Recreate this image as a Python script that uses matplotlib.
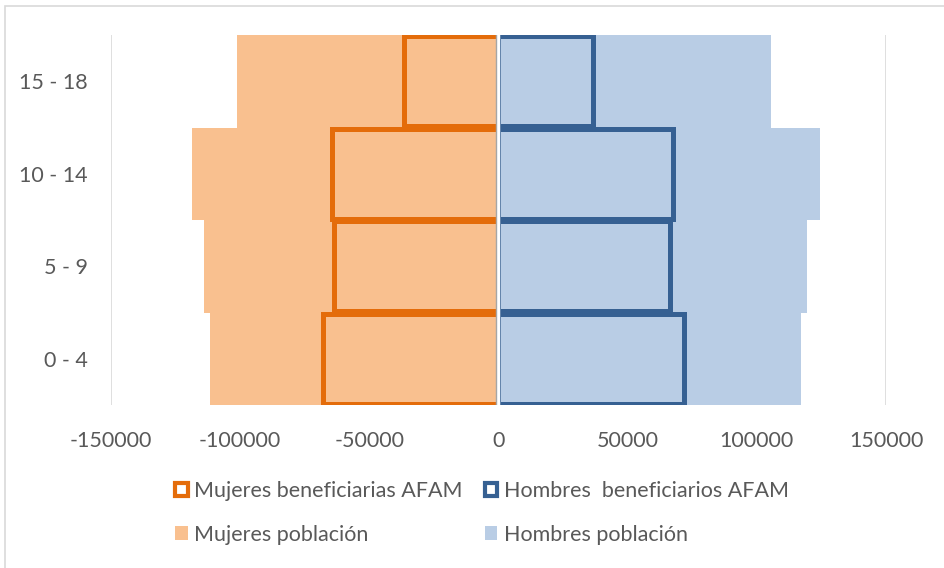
import matplotlib
import matplotlib.pyplot as plt
from matplotlib.patches import Rectangle

matplotlib.use("Agg")

# age groups, bottom to top
grupos = ["0 - 4", "5 - 9", "10 - 14", "15 - 18"]
mujeres_poblacion = [111600, 113900, 118600, 101100]
hombres_poblacion = [117000, 119400, 124400, 105400]
mujeres_afam = [67800, 63600, 64300, 36400]
hombres_afam = [71700, 66300, 67400, 36400]
ticks_x = [-150000, -100000, -50000, 0, 50000, 100000, 150000]

NARANJA = "#e46c0a"
NARANJA_CLARO = "#f9c08f"
AZUL = "#366092"
AZUL_CLARO = "#b9cde5"
GRIS_TEXTO = "#595959"

plt.rcParams["font.family"] = ["Lato", "DejaVu Sans"]

fig = plt.figure(figsize=(9.45, 5.68), dpi=100)
ax = fig.add_axes([111 / 945, 1 - 405 / 568, 775 / 945, 370 / 568])

y = range(len(grupos))
ax.barh(y, [-v for v in mujeres_poblacion], height=1.0, color=NARANJA_CLARO, zorder=2)
ax.barh(y, hombres_poblacion, height=1.0, color=AZUL_CLARO, zorder=2)
ax.barh(y, [-v for v in mujeres_afam], height=0.975, facecolor="none",
        edgecolor=NARANJA, linewidth=3.6, zorder=3)
ax.barh(y, hombres_afam, height=0.975, facecolor="none",
        edgecolor=AZUL, linewidth=3.6, zorder=3)

# center axis line
ax.axvline(0, color="white", linewidth=2.5, zorder=4)
ax.axvline(-900, color="#a6a6a6", linewidth=1.0, zorder=5)

ax.set_xlim(-150000, 150000)
ax.set_ylim(-0.5, 3.5)
ax.set_xticks(ticks_x)
ax.set_xticklabels([str(t) for t in ticks_x])
ax.set_yticks(list(y))
ax.set_yticklabels(grupos)
ax.tick_params(length=0, labelsize=15.5, colors=GRIS_TEXTO)
ax.tick_params(axis="x", pad=19)
ax.tick_params(axis="y", pad=16.5)
ax.grid(axis="x", color="#d9d9d9", linewidth=1.2, zorder=0)
ax.set_axisbelow(True)
for s in ax.spines.values():
    s.set_visible(False)

handles = [
    Rectangle((0, 0), 1, 1, facecolor="white", edgecolor=NARANJA, linewidth=3),
    Rectangle((0, 0), 1, 1, facecolor=NARANJA_CLARO),
    Rectangle((0, 0), 1, 1, facecolor="white", edgecolor=AZUL, linewidth=3),
    Rectangle((0, 0), 1, 1, facecolor=AZUL_CLARO),
]
labels = [
    "Mujeres beneficiarias AFAM",
    "Mujeres población",
    "Hombres  beneficiarios AFAM",
    "Hombres población",
]
fig.legend(handles, labels, ncol=2, loc="center", bbox_to_anchor=(482 / 945, 1 - 513 / 568),
           frameon=False, fontsize=15.5, labelcolor=GRIS_TEXTO, handlelength=0.6,
           handleheight=0.6, handletextpad=0.3, columnspacing=1.0, labelspacing=1.1)

# chart area border
fig.patches.append(Rectangle((5 / 945, -0.1), 1.2, 1 - 6 / 568 + 0.1, transform=fig.transFigure,
                             fill=False, edgecolor="#d9d9d9", linewidth=1.2))

fig.savefig("out.png")
